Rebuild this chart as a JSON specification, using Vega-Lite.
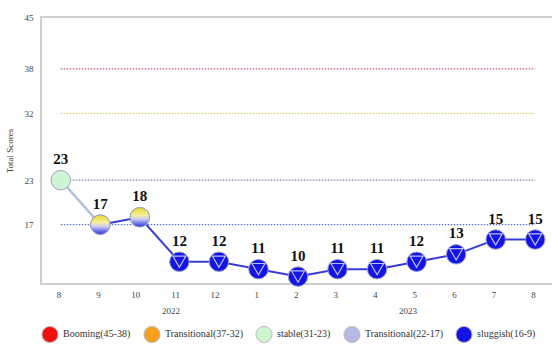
{
  "$schema": "https://vega.github.io/schema/vega-lite/v6.json",
  "autosize": {"type": "none"},
  "padding": {"left": 41, "top": 17, "right": 0, "bottom": 63},
  "width": 514,
  "height": 267,
  "background": "white",
  "config": {
    "font": "Liberation Serif",
    "view": {"stroke": "#cfcfcf", "strokeWidth": 2},
    "axis": {"labelFont": "Liberation Serif", "titleFont": "Liberation Serif", "labelColor": "#444", "titleColor": "#444", "grid": false, "ticks": false, "domain": false, "labelFontSize": 9},
    "legend": {"labelFont": "Liberation Serif"}
  },
  "datasets": {
    "scores": [
      {"date": "2022-08", "i": 0, "score": 23, "state": "stable(31-23)"},
      {"date": "2022-09", "i": 1, "score": 17, "state": "Transitional(22-17)"},
      {"date": "2022-10", "i": 2, "score": 18, "state": "Transitional(22-17)"},
      {"date": "2022-11", "i": 3, "score": 12, "state": "sluggish(16-9)"},
      {"date": "2022-12", "i": 4, "score": 12, "state": "sluggish(16-9)"},
      {"date": "2023-01", "i": 5, "score": 11, "state": "sluggish(16-9)"},
      {"date": "2023-02", "i": 6, "score": 10, "state": "sluggish(16-9)"},
      {"date": "2023-03", "i": 7, "score": 11, "state": "sluggish(16-9)"},
      {"date": "2023-04", "i": 8, "score": 11, "state": "sluggish(16-9)"},
      {"date": "2023-05", "i": 9, "score": 12, "state": "sluggish(16-9)"},
      {"date": "2023-06", "i": 10, "score": 13, "state": "sluggish(16-9)"},
      {"date": "2023-07", "i": 11, "score": 15, "state": "sluggish(16-9)"},
      {"date": "2023-08", "i": 12, "score": 15, "state": "sluggish(16-9)"}
    ],
    "levels": [
      {"level": 38, "from": "2022-08", "to": "2023-08"},
      {"level": 32, "from": "2022-08", "to": "2023-08"},
      {"level": 23, "from": "2022-08", "to": "2023-08"},
      {"level": 17, "from": "2022-08", "to": "2023-08"}
    ]
  },
  "layer": [
    {
      "data": {"name": "levels"},
      "mark": {"type": "rule", "strokeDash": [1.5, 1.5], "strokeWidth": 1.2},
      "encoding": {
        "x": {"field": "from", "type": "ordinal"},
        "x2": {"field": "to"},
        "y": {"field": "level", "type": "quantitative"},
        "color": {"field": "level", "type": "nominal", "legend": null,
          "scale": {"domain": [38, 32, 23, 17], "range": ["#c8588c", "#d8d068", "#7888a8", "#6070c8"]}}
      }
    },
    {
      "data": {"name": "scores"},
      "transform": [{"filter": "datum.i <= 1"}],
      "mark": {"type": "line", "color": "#b4c0dc", "strokeWidth": 2.5},
      "encoding": {
        "x": {"field": "date", "type": "ordinal"},
        "y": {"field": "score", "type": "quantitative"}
      }
    },
    {
      "data": {"name": "scores"},
      "transform": [{"filter": "datum.i >= 1"}],
      "mark": {"type": "line", "color": "#3a3ad8", "strokeWidth": 2},
      "encoding": {
        "x": {"field": "date", "type": "ordinal"},
        "y": {"field": "score", "type": "quantitative"}
      }
    },
    {
      "data": {"name": "scores"},
      "mark": {"type": "point", "filled": true, "opacity": 1, "size": 380, "stroke": "#9aa4c0", "strokeWidth": 1},
      "encoding": {
        "x": {"field": "date", "type": "ordinal",
          "scale": {"type": "point", "padding": 0.5},
          "axis": {"title": null, "labelAngle": 0, "labelPadding": 10, "labelLineHeight": 16,
            "labelExpr": "datum.value == '2022-11' ? ['11', '2022'] : datum.value == '2023-05' ? ['5', '2023'] : '' + toNumber(slice(datum.value, 5))"}},
        "y": {"field": "score", "type": "quantitative",
          "scale": {"domain": [9, 45], "nice": false, "zero": false},
          "axis": {"title": "Total Scores", "values": [17, 23, 32, 38, 45], "titleFontSize": 9, "titleFontWeight": "normal", "titlePadding": 10, "labelPadding": 8}},
        "fill": {"field": "state", "type": "nominal",
          "scale": {
            "domain": ["Booming(45-38)", "Transitional(37-32)", "stable(31-23)", "Transitional(22-17)", "sluggish(16-9)"],
            "range": ["#f01010", "#f8a020", "#cdf5d2", "#b8b8e4", "#1414e6"]
          },
          "legend": {"title": null, "orient": "bottom", "direction": "horizontal", "columns": 5, "symbolType": "circle", "symbolSize": 260, "symbolStrokeColor": "#bbb", "symbolStrokeWidth": 1, "labelFont": "Liberation Serif", "labelFontSize": 10, "labelColor": "#333", "columnPadding": 10, "offset": 10}
        }
      }
    },
    {
      "data": {"name": "scores"},
      "transform": [{"filter": "datum.state == 'Transitional(22-17)'"}],
      "mark": {"type": "point", "filled": true, "opacity": 1, "size": 380, "stroke": "#9aa4c0", "strokeWidth": 1,
        "fill": {"gradient": "linear", "x1": 0, "y1": 0, "x2": 0, "y2": 1, "stops": [{"offset": 0, "color": "#e8d820"}, {"offset": 0.4, "color": "#f6f0a0"}, {"offset": 0.6, "color": "#c8c8f4"}, {"offset": 1, "color": "#2a2ae0"}]}},
      "encoding": {
        "x": {"field": "date", "type": "ordinal"},
        "y": {"field": "score", "type": "quantitative"}
      }
    },
    {
      "data": {"name": "scores"},
      "transform": [{"filter": "datum.i >= 3"}],
      "mark": {"type": "point", "shape": "triangle-down", "size": 170, "filled": false, "stroke": "#b8c0ff", "strokeWidth": 1.2, "opacity": 1},
      "encoding": {
        "x": {"field": "date", "type": "ordinal"},
        "y": {"field": "score", "type": "quantitative"}
      }
    },
    {
      "data": {"name": "scores"},
      "mark": {"type": "text", "fontWeight": "bold", "fontSize": 15, "font": "Liberation Serif", "dy": -21, "color": "#111"},
      "encoding": {
        "x": {"field": "date", "type": "ordinal"},
        "y": {"field": "score", "type": "quantitative"},
        "text": {"field": "score", "type": "quantitative"}
      }
    }
  ]
}
